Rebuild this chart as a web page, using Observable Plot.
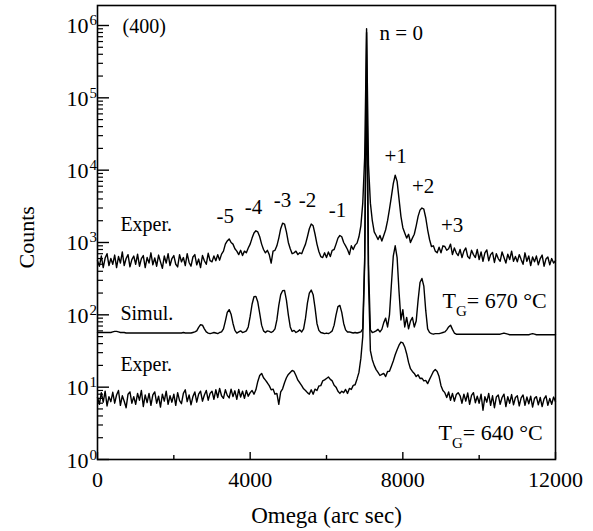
<!DOCTYPE html>
<html>
<head>
<meta charset="utf-8">
<script src="https://cdn.jsdelivr.net/npm/d3@7"></script>
<script src="https://cdn.jsdelivr.net/npm/@observablehq/plot@0.6"></script>
<style>
  html, body { margin: 0; padding: 0; background: #fff; }
  svg { font-family: "Liberation Serif", "Times New Roman", serif; }
</style>
</head>
<body>
<div id="chart"></div>
<script>
// Omega sampling step (arc sec); value i sits at omega = i * omegaStep
const omegaStep = 50;

// Experimental curve, T_G = 670 °C (counts)
const exp670 = [
  560, 470, 650, 450, 610, 700, 480, 600, 500, 670,
  450, 640, 520, 740, 480, 600, 680, 460, 580, 650,
  500, 690, 470, 600, 660, 450, 620, 520, 720, 490,
  610, 470, 670, 540, 440, 650, 520, 700, 480, 600,
  660, 500, 460, 680, 540, 620, 480, 700, 530, 470,
  630, 680, 490, 590, 450, 660, 560, 500, 710, 560,
  540, 650, 560, 680, 570, 690, 760, 950, 1050, 1120,
  1000, 950, 820, 760, 680, 780, 660, 760, 720, 840,
  950, 1150, 1350, 1450, 1400, 1200, 950, 800, 720, 780,
  680, 520, 760, 780, 900, 1150, 1550, 1850, 1800, 1400,
  1000, 820, 700, 720, 760, 680, 720, 700, 820, 950,
  1200, 1550, 1800, 1700, 1300, 950, 750, 640, 620, 720,
  620, 740, 640, 780, 800, 950, 1150, 1250, 1200, 1000,
  900, 800, 680, 900, 800, 920, 980, 1200, 1700, 3500,
  15000, 900000, 12000, 3500, 2000, 1400, 1250, 1100, 1250, 1050,
  1250, 1500, 2000, 2900, 4300, 6500, 8500, 7000, 4000, 2300,
  1600, 1350, 1150, 1300, 1000, 1150, 1300, 1700, 2300, 2800,
  3000, 2900, 2200, 1500, 1100, 880, 900, 760, 720, 860,
  720, 900, 880, 780, 820, 950, 680, 840, 720, 660,
  800, 620, 760, 840, 640, 600, 780, 680, 620, 800,
  580, 740, 550, 720, 790, 560, 680, 730, 530, 700,
  600, 550, 740, 620, 520, 690, 580, 760, 550, 640,
  540, 680, 580, 500, 720, 550, 650, 480, 630, 540,
  650, 490, 600, 670, 470, 590, 630, 490, 600, 520,
  560
];

// Simulated curve (counts)
const sim670 = [
  57, 57, 57, 57, 57, 57, 57, 57, 58, 59,
  59, 58, 57, 57, 57, 56, 56, 56, 56, 56,
  56, 56, 56, 56, 56, 56, 56, 56, 56, 56,
  56, 56, 56, 56, 56, 56, 56, 56, 56, 56,
  56, 56, 56, 56, 56, 57, 56, 56, 56, 56,
  57, 58, 60, 67, 73, 72, 64, 58, 56, 55,
  56, 57, 56, 55, 57, 58, 64, 82, 108, 118,
  102, 76, 61, 56, 58, 60, 57, 58, 60, 68,
  95, 140, 178, 180, 150, 105, 72, 60, 57, 60,
  59, 57, 59, 64, 85, 135, 190, 215, 218, 160,
  100, 68, 59, 61, 57, 59, 62, 58, 64, 90,
  145, 200, 220, 190, 125, 76, 61, 57, 56, 55,
  56, 55, 57, 60, 72, 100, 130, 135, 108, 76,
  62, 58, 58, 57, 56, 57, 56, 57, 58, 64,
  600, 800000, 500, 62, 57, 58, 60, 63, 58, 63,
  78, 90, 68, 100, 260, 650, 900, 620, 210, 85,
  118, 68, 92, 64, 82, 92, 68, 82, 160, 280,
  318, 250, 115, 64, 57, 55, 54, 55, 55, 55,
  56, 57, 58, 62, 68, 72, 63, 56, 54, 54,
  54, 54, 54, 54, 54, 54, 54, 54, 54, 54,
  54, 54, 54, 54, 54, 54, 54, 54, 54, 54,
  54, 54, 55, 56, 55, 54, 53, 53, 53, 53,
  53, 53, 53, 53, 53, 53, 53, 54, 55, 54,
  53, 53, 53, 53, 53, 53, 53, 53, 53, 53,
  53
];

// Experimental curve, T_G = 640 °C (counts)
const exp640 = [
  7.2, 5.8, 8.4, 6.2, 8.8, 5.5, 7.4, 6.3, 8.5, 6.0,
  7.8, 9.0, 5.6, 7.6, 6.4, 5.2, 8.0, 8.6, 6.0, 7.4,
  5.8, 8.2, 6.6, 9.0, 5.4, 7.8, 6.1, 8.2, 5.6, 7.8,
  8.6, 6.0, 7.5, 5.3, 8.0, 6.4, 8.8, 5.8, 7.6, 6.2,
  8.0, 5.6, 8.4, 6.5, 5.9, 8.2, 9.2, 6.3, 7.8, 5.7,
  7.4, 8.6, 6.2, 8.0, 8.8, 6.4, 7.8, 9.0, 6.6, 8.2,
  8.8, 6.8, 9.2, 7.2, 9.6, 7.6, 7.0, 9.2, 7.7, 7.1,
  9.4, 7.4, 8.9, 6.8, 9.3, 7.3, 8.8, 7.0, 9.0, 7.5,
  8.4, 9.0, 8.0, 9.2, 12.0, 14.5, 15.5, 13.5, 12.5, 11.5,
  10.5, 9.2, 9.4, 8.0, 8.2, 5.8, 8.6, 9.5, 11.5, 13.5,
  15.0, 16.0, 17.0, 16.5, 14.5, 12.5, 11.5, 10.5, 9.5, 9.0,
  8.4, 8.0, 9.2, 8.0, 9.4, 9.0, 10.4, 10.5, 12.2, 12.6,
  13.2, 13.8, 12.8, 12.2, 10.6, 10.0, 8.8, 8.2, 8.8, 8.4,
  9.3, 8.2, 9.6, 9.3, 10.6, 10.8, 13.0, 16.0, 25, 50,
  500, 150000, 300, 32, 24, 20, 17.5, 16, 14.5, 15,
  15.5, 14.0, 16.5, 16.6, 19.5, 23, 28, 33, 38, 42,
  41, 36, 29, 22, 18, 16.5, 15.5, 14, 14.8, 13.2,
  13.3, 12.2, 12.4, 11.2, 12.8, 14.5, 16.5, 17.5, 16.5, 14.0,
  10.5, 9.0, 8.4, 7.2, 8.6, 6.6, 8.2, 6.4, 7.9, 8.4,
  7.6, 6.0, 8.0, 6.4, 8.3, 5.8, 7.7, 8.4, 6.1, 7.5,
  6.0, 8.0, 4.8, 7.4, 6.2, 8.2, 5.6, 7.6, 5.2, 7.3,
  7.8, 5.8, 7.2, 8.0, 5.4, 7.4, 6.0, 7.9, 5.7, 7.2,
  7.6, 5.5, 7.1, 7.8, 5.6, 7.3, 5.9, 7.5, 5.3, 7.0,
  7.4, 5.7, 7.2, 5.4, 6.9, 7.6, 5.6, 7.0, 5.8, 7.3,
  6.3
];

// Axis ticks
const xTicks = [0, 4000, 8000, 12000];
const xMinorTicks = [2000, 6000, 10000];
const yExponents = [0, 1, 2, 3, 4, 5, 6];
const yMinorMultipliers = [2, 3, 4, 5, 6, 7, 8, 9];

// Satellite peak labels and their omega positions
const orderLabels = ["-5", "-4", "-3", "-2", "-1", "+1", "+2", "+3"];
const orderOmega = [3350, 4090, 4850, 5500, 6290, 7810, 8530, 9290];
const growthTemps = ["670 °C", "640 °C"];

// Build tables
const toRows = (values, series) => values.map((v, i) => ({omega: i * omegaStep, counts: v, series}));
const rows = [
  ...toRows(exp670, "exp670"),
  ...toRows(sim670, "sim670"),
  ...toRows(exp640, "exp640")
];
const yMajor = yExponents.map(e => 10 ** e);
const yMinor = yExponents.slice(0, -1).flatMap(e => yMinorMultipliers.map(m => m * 10 ** e));

const frameW = 593 - 97 - 38;
const frameH = 531 - 5 - 72;
const labelY = [1890, 2440, 3050, 3050, 2220, 12400, 4760, 1375];

const chart = Plot.plot({
  width: 593,
  height: 531,
  marginLeft: 97,
  marginRight: 38,
  marginTop: 5,
  marginBottom: 72,
  style: {fontFamily: "'Liberation Serif', 'Times New Roman', serif", fontSize: "20px", color: "#000", background: "#fff", overflow: "visible"},
  x: {domain: [0, 12000], axis: null},
  y: {type: "log", domain: [1, 1.89e6], axis: null},
  marks: [
    // inward ticks
    Plot.tickY(yMajor, {y: d => d, insetRight: frameW - 12, stroke: "#000", strokeWidth: 1.4}),
    Plot.tickY(yMinor, {y: d => d, insetRight: frameW - 6, stroke: "#000", strokeWidth: 1.2}),
    Plot.tickX(xTicks, {x: d => d, insetTop: frameH - 7, stroke: "#000", strokeWidth: 1.4}),
    Plot.tickX(xMinorTicks, {x: d => d, insetTop: frameH - 4, stroke: "#000", strokeWidth: 1.4}),
    // curves
    Plot.line(rows, {x: "omega", y: "counts", z: "series", stroke: "#000", strokeWidth: 1.4, strokeLinejoin: "round"}),
    Plot.frame({stroke: "#000", strokeWidth: 1.6}),
    // x tick labels
    Plot.text(xTicks, {x: d => d, frameAnchor: "bottom", text: d => String(d), textAnchor: "middle", lineAnchor: "bottom", dy: 27, fontSize: 22}),
    // y tick labels: 10 with superscript exponent
    Plot.text(yExponents, {y: d => 10 ** d, frameAnchor: "left", text: () => "10", textAnchor: "end", lineAnchor: "bottom", dx: -9, dy: 8, fontSize: 22, letterSpacing: 1}),
    Plot.text(yExponents, {y: d => 10 ** d, frameAnchor: "left", text: d => String(d), textAnchor: "start", lineAnchor: "bottom", dx: -8, dy: 0, fontSize: 15}),
    // axis titles
    Plot.text(["Omega (arc sec)"], {frameAnchor: "bottom", lineAnchor: "bottom", dy: 63, fontSize: 23}),
    Plot.text(["Counts"], {frameAnchor: "left", rotate: -90, dx: -71, dy: 36, fontSize: 22}),
    // annotations
    Plot.text(["(400)"], {x: 655, y: 8.0e5, textAnchor: "start", lineAnchor: "bottom", fontSize: 20}),
    Plot.text(["n = 0"], {x: 7390, y: 6.4e5, textAnchor: "start", lineAnchor: "bottom", fontSize: 21}),
    Plot.text(orderLabels, {x: (d, i) => orderOmega[i], y: (d, i) => labelY[i], text: d => d, textAnchor: "middle", lineAnchor: "bottom", fontSize: 21}),
    Plot.text(["Exper."], {x: 600, y: 1420, textAnchor: "start", lineAnchor: "bottom", fontSize: 20}),
    Plot.text(["Simul."], {x: 600, y: 86, textAnchor: "start", lineAnchor: "bottom", fontSize: 20}),
    Plot.text(["Exper."], {x: 600, y: 16.5, textAnchor: "start", lineAnchor: "bottom", fontSize: 20}),
    Plot.text([growthTemps[0]], {x: 9040, y: 126, text: d => "T_G= " + d, textAnchor: "start", lineAnchor: "bottom", fontSize: 22}),
    Plot.text([growthTemps[1]], {x: 8935, y: 1.89, text: d => "T_G= " + d, textAnchor: "start", lineAnchor: "bottom", fontSize: 22})
  ]
});

// Subscript G in the T_G labels
d3.select(chart).selectAll("text").each(function () {
  const t = this.textContent;
  if (t.startsWith("T_G")) {
    const rest = t.slice(3);
    const sel = d3.select(this);
    sel.text(null);
    sel.append("tspan").text("T");
    sel.append("tspan").attr("dy", 8).attr("font-size", 15).text("G");
    sel.append("tspan").attr("dy", -8).text(rest);
  }
});

document.getElementById("chart").appendChild(chart);
</script>
</body>
</html>
